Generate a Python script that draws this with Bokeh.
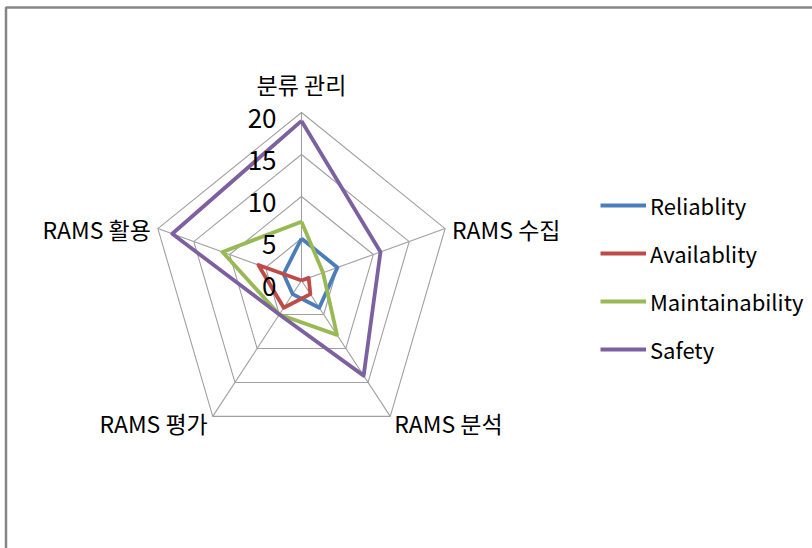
import math
from bokeh.plotting import figure
from bokeh.models import Range1d, Legend, LegendItem, BoxAnnotation, ColumnDataSource
from bokeh.core.properties import value
from bokeh.embed import file_html
from bokeh.resources import INLINE

# ---- data ----
categories = ["분류 관리", "RAMS 수집", "RAMS 분석", "RAMS 평가", "RAMS 활용"]
reliability = [5, 5, 4, 2, 2.5]
availability = [0, 1, 2, 4, 6]
maintainability = [7, 3, 8, 5, 11]
safety = [19, 11, 14, 5, 18]
series_names = ["Reliablity", "Availablity", "Maintainability", "Safety"]
series_colors = ["#4A7EBB", "#BE4B48", "#98B954", "#7D60A0"]
ticks = [0, 5, 10, 15, 20]
r_max = 20

FONT = "Noto Sans CJK KR"

# ---- geometry (pixel scale of one radial unit) ----
W, H = 812, 548
CX, CY = 301, 280          # centre in pixels
RX, RY = 7.55, 8.4         # px per unit, horizontal / vertical
x0 = -CX / RX
x1 = (W - CX) / RX
y1 = CY / RY
y0 = -(H - CY) / RY

n = len(categories)
angles = [math.radians(90 - 360.0 / n * i) for i in range(n)]


def polar(vals):
    xs = [v * math.cos(a) for v, a in zip(vals, angles)]
    ys = [v * math.sin(a) for v, a in zip(vals, angles)]
    return xs + xs[:1], ys + ys[:1]


p = figure(width=W, height=H, x_range=Range1d(x0, x1), y_range=Range1d(y0, y1),
           output_backend="svg", toolbar_location=None,
           x_axis_type=None, y_axis_type=None,
           min_border=0, min_border_left=0, min_border_right=0,
           min_border_top=0, min_border_bottom=0)
p.grid.visible = False
p.outline_line_color = None
p.background_fill_color = "white"
p.border_fill_color = "white"

# chart-area border (top & left visible)
p.add_layout(BoxAnnotation(left=x0 + 5.5 / RX, top=y1 - 7 / RY, right=x1 + 50, bottom=y0 - 50,
                           fill_alpha=0, line_color="#868686", line_alpha=1.0, line_width=2.5))

# grid rings
for t in ticks[1:]:
    gx, gy = polar([t] * n)
    p.line(gx, gy, line_color="#a0a0a0", line_width=1.1)

# spokes
sx = [r_max * math.cos(a) for a in angles]
sy = [r_max * math.sin(a) for a in angles]
p.segment(x0=[0] * n, y0=[0] * n, x1=sx, y1=sy, line_color="#a0a0a0", line_width=1.1)

# series
renderers = []
for vals, col in zip([reliability, availability, maintainability, safety], series_colors):
    lx, ly = polar(vals)
    r = p.line(lx, ly, line_color=col, line_width=3.8, line_join="round")
    renderers.append(r)

# tick labels
tsrc = ColumnDataSource(dict(x=[0] * len(ticks), y=ticks, t=[str(t) for t in ticks]))
p.text(x="x", y="y", text="t", source=tsrc, text_align="right", text_baseline="middle",
       x_offset=-25, y_offset=6, text_font=value(FONT), text_font_size="26px",
       text_color="black")

# category labels
csrc = ColumnDataSource(dict(
    x=sx, y=sy, t=categories,
    align=["center", "left", "left", "right", "right"],
    xo=[0, 7, 4, -5, -7],
    yo=[-29, 0, 7, 7, 0],
))
p.text(x="x", y="y", text="t", source=csrc, text_align="align", text_baseline="middle",
       x_offset="xo", y_offset="yo", text_font=value(FONT), text_font_size="23px",
       text_color="black")

legend = Legend(items=[LegendItem(label=nm, renderers=[r]) for nm, r in zip(series_names, renderers)],
                location=(600, 183), orientation="vertical",
                border_line_color=None, background_fill_alpha=0,
                padding=0, margin=0, spacing=16,
                glyph_width=46, glyph_height=24, label_height=24, label_standoff=4,
                label_text_font=FONT, label_text_font_size="22px", label_text_color="black")
p.add_layout(legend)

open("out.html", "w").write(file_html(p, INLINE))
